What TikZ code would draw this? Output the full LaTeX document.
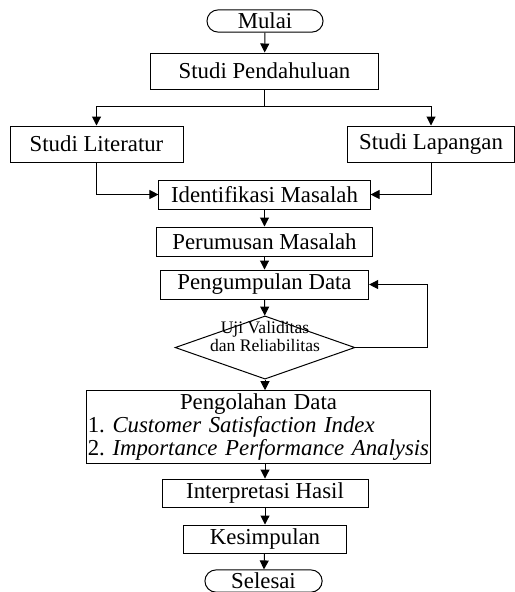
\documentclass[tikz,border=0pt]{standalone}
\usepackage{fontspec}
\setmainfont{Liberation Serif}
\usetikzlibrary{positioning,arrows.meta,shapes.geometric,shapes.misc}

\newcommand{\ujifont}{\fontsize{8.8}{9}\selectfont}
\newcommand{\olahfont}{\fontsize{11.4}{10}\selectfont\hyphenpenalty=10000\relax}

\begin{document}
\begin{tikzpicture}[
    process/.style={rectangle, draw=black, line width=0.5pt, minimum height=0.51cm, inner sep=1pt, align=center, font=\fontsize{11.4}{13}\selectfont},
    terminal/.style={rounded rectangle, draw=black, line width=0.5pt, minimum width=2.04cm, minimum height=0.39cm, inner sep=0pt, font=\fontsize{11.4}{13}\selectfont},
    decision/.style={diamond, draw=black, line width=0.5pt, aspect=2.86, minimum width=3.16cm, minimum height=1.11cm, inner xsep=0pt, inner ysep=-7pt, text height=15pt, text depth=11pt, align=center, font=\ujifont},
    arrow/.style={-{Triangle[length=4.5pt,width=4.5pt]}, line width=0.5pt}
]

\useasboundingbox (0,0) rectangle (9.033,-10.403);

% ============== START, STUDI PENDAHULUAN ==============
\node[terminal] (mulai) at (4.657,-0.369) {Mulai};

\node[process, minimum width=4.02cm, minimum height=0.633cm] (pendahuluan) at (4.648,-1.248) {Studi Pendahuluan};

\coordinate (split) at (4.648,-1.880);

% ============== STUDI LITERATUR, STUDI LAPANGAN ==============
\node[process, minimum width=3.04cm, minimum height=0.633cm] (literatur) at (1.696,-2.531) {Studi Literatur};

\node[process, minimum width=2.92cm, minimum height=0.633cm] (lapangan) at (7.574,-2.531) {Studi Lapangan};

% ============== MASALAH, DATA ==============
\node[process, minimum width=3.71cm] (identifikasi) at (4.648,-3.418) {Identifikasi Masalah};

\node[process, minimum width=3.78cm] (perumusan) at (4.648,-4.244) {Perumusan Masalah};

\node[process, minimum width=3.66cm] (pengumpulan) at (4.648,-5.000) {Pengumpulan Data};

\node[decision] (uji) at (4.657,-6.107) {
    Uji Validitas\\
    dan Reliabilitas
};

\node[process, text width=6.0cm, align=left, inner xsep=0.5pt, inner ysep=1.5pt, minimum height=1.195cm, font=\olahfont] (olah) at (4.543,-7.504) {
    \hfill Pengolahan Data\hfill\null\\
    1.\ \textit{Customer Satisfaction Index}\\
    2.\ \textit{Importance Performance Analysis}
};

% ============== HASIL, SELESAI ==============
\node[process, minimum width=3.62cm, minimum height=0.492cm] (interpretasi) at (4.657,-8.664) {Interpretasi Hasil};

\node[process, minimum width=2.88cm, minimum height=0.492cm] (kesimpulan) at (4.657,-9.472) {Kesimpulan};

\node[terminal, minimum width=2.06cm] (selesai) at (4.631,-10.210) {Selesai};

% ============== CONNECTIONS ==============

% Mulai -> Studi Pendahuluan
\draw[arrow] (mulai) -- (pendahuluan);

% Studi Pendahuluan -> Literatur / Lapangan
\draw[line width=0.5pt] (pendahuluan) -- (split);
\draw[arrow] (split) -| (literatur);
\draw[arrow] (split) -| (lapangan);

% Literatur / Lapangan -> Identifikasi
\draw[arrow] (literatur) |- (identifikasi);
\draw[arrow] (lapangan) |- (identifikasi);

% main column
\draw[arrow] (identifikasi) -- (perumusan);
\draw[arrow] (perumusan) -- (pengumpulan);
\draw[arrow] (pengumpulan) -- (uji);
\draw[arrow] (uji) -- (uji |- olah.north);
\draw[arrow] (olah.south -| interpretasi) -- (interpretasi);
\draw[arrow] (interpretasi) -- (kesimpulan);
\draw[arrow] (kesimpulan) -- (selesai);

% Uji -> Pengumpulan (loop back)
\draw[arrow]
    (uji.east)
        -- ++(1.265,0)
        |- (pengumpulan.east);

\end{tikzpicture}
\end{document}
